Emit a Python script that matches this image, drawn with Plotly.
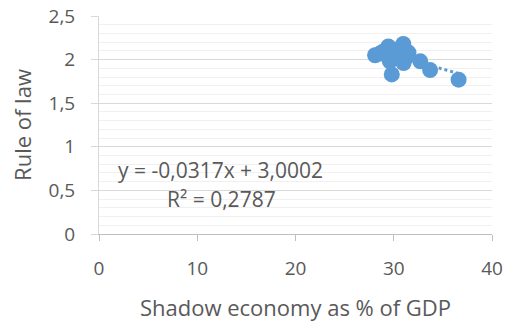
import plotly.graph_objects as go

shadow = [28.1, 28.6, 28.9, 29.45, 29.6, 29.8, 30.0, 30.3, 30.5, 30.97, 31.0, 31.3, 31.5, 32.7, 33.7, 36.6]
rule = [2.05, 2.07, 2.09, 2.15, 1.98, 1.83, 2.10, 2.03, 2.12, 2.18, 1.96, 2.03, 2.08, 1.98, 1.88, 1.77]
slope = -0.0317
intercept = 3.0002
trend_x = [min(shadow), max(shadow)]
trend_y = [slope * v + intercept for v in trend_x]

blue = "#5b9bd5"
gray = "#595959"
fam = "Open Sans, Calibri, sans-serif"

fig = go.Figure()
fig.add_trace(go.Scatter(x=trend_x, y=trend_y, mode="lines",
                         line=dict(color=blue, width=3, dash="dot"), hoverinfo="skip"))
fig.add_trace(go.Scatter(x=shadow, y=rule, mode="markers",
                         marker=dict(color=blue, size=16, line=dict(width=0))))

fig.add_annotation(x=0.043, y=0.294, xref="paper", yref="paper", text="y = -0,0317x + 3,0002",
                   showarrow=False, xanchor="left", yanchor="middle",
                   font=dict(family=fam, size=21, color=gray))
fig.add_annotation(x=0.168, y=0.161, xref="paper", yref="paper", text="R² = 0,2787",
                   showarrow=False, xanchor="left", yanchor="middle",
                   font=dict(family=fam, size=21, color=gray))

fig.update_layout(
    width=511, height=322,
    margin=dict(l=99, r=19, t=16, b=88),
    paper_bgcolor="white", plot_bgcolor="white",
    showlegend=False,
    separators=", ",
    font=dict(family=fam, color=gray, size=19),
    xaxis=dict(range=[0, 40], dtick=10, showgrid=False, zeroline=False, automargin=False,
               showline=True, linecolor="#bfbfbf", linewidth=1,
               ticks="outside", ticklen=6, tickcolor="#bfbfbf",
               ticklabelstandoff=11, ticklabeloverflow="allow",
               title=dict(text="Shadow economy as % of GDP", font=dict(size=22), standoff=20)),
    yaxis=dict(range=[0, 2.5], dtick=0.5, showgrid=True, gridcolor="#d9d9d9", gridwidth=1,
               zeroline=False, showline=True, linecolor="#d9d9d9", linewidth=1, automargin=False,
               ticks="outside", ticklen=7, tickcolor="#d9d9d9",
               ticklabelstandoff=12, ticklabeloverflow="allow",
               minor=dict(dtick=0.1, showgrid=True, gridcolor="#f0f0f0", gridwidth=1, ticks=""),
               title=dict(text="Rule of law", font=dict(size=22), standoff=10)),
)

# remove the page's default 8px body margin so the figure fills the window exactly
fig.write_html("out.html", config={"displayModeBar": False},
               post_script="document.body.style.margin='0px';")
